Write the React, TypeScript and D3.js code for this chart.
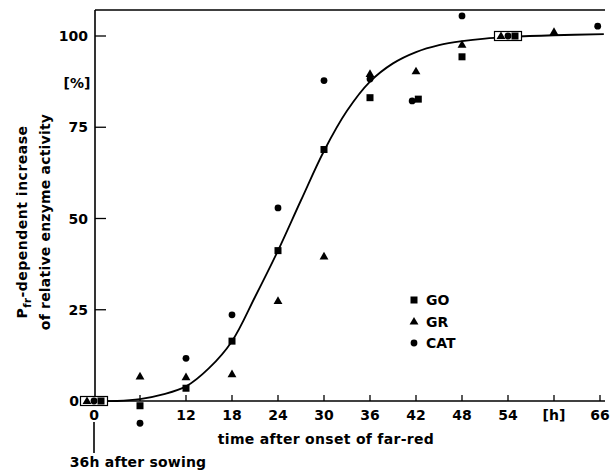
import React from 'react';
import * as d3 from 'd3';

// values (hours after onset of far-red, % increase)
const goHours = [6, 12, 18, 24, 30, 36, 42.3, 48];
const goValues = [-1.3, 3.5, 16.4, 41.2, 68.9, 83.1, 82.7, 94.3];
const grHours = [6, 12, 18, 24, 30, 36, 42, 48, 60];
const grValues = [6.6, 6.4, 7.2, 27.3, 39.5, 89.5, 90.2, 97.5, 101];
const catHours = [6, 12, 18, 24, 30, 36, 41.5, 48, 65.7];
const catValues = [-6.1, 11.7, 23.6, 52.9, 87.8, 88.2, 82.2, 105.5, 102.7];
// all three series coincide here (drawn boxed)
const boxHours = [0, 54];
const boxValues = [0, 100];
// hand-drawn fit curve
const fitHours = [0, 3, 6, 9, 12, 15, 18, 21, 24, 27, 30, 33, 36, 39, 42, 45, 48, 51, 54, 60, 66.5];
const fitValues = [0, 0, 0.5, 1.8, 4, 9, 16.4, 28.5, 41.2, 55, 68.5, 79.5, 87.5, 92.5, 95.6, 97.5, 98.6, 99.3, 99.7, 100.2, 100.5];

const xTicks = [0, 6, 12, 18, 24, 30, 36, 42, 48, 54, 60, 66];
const xTickLabels = ['0', '', '12', '18', '24', '30', '36', '42', '48', '54', '[h]', '66'];
const yTicks = [0, 25, 50, 75, 100];

const font = '"DejaVu Sans", sans-serif';

const x = d3.scaleLinear().domain([0, 66]).range([94, 600]);
const y = d3.scaleLinear().domain([0, 100]).range([401, 36]);

const Square = ({ cx, cy }: { cx: number; cy: number }) => (
  <rect x={cx - 3.5} y={cy - 3.5} width={7} height={7} fill="#000" />
);
const Triangle = ({ cx, cy }: { cx: number; cy: number }) => (
  <path d={d3.symbol(d3.symbolTriangle, 34)()!} transform={`translate(${cx},${cy})`} fill="#000" />
);
const Dot = ({ cx, cy }: { cx: number; cy: number }) => <circle cx={cx} cy={cy} r={3.4} fill="#000" />;

export default function App() {
  const line = d3.line<number>()
    .x((d, i) => x(fitHours[i]))
    .y((d) => y(d))
    .curve(d3.curveCatmullRom.alpha(0.5));

  const txt = { fontFamily: font, fontSize: 14, fontWeight: 'bold' as const };

  return (
    <svg width={614} height={471} style={{ position: 'absolute', left: 0, top: 0, background: '#fff' }}>
      {/* frame */}
      <line x1={95} y1={10} x2={95} y2={401} stroke="#000" strokeWidth={1.6} />
      <line x1={95} y1={10} x2={605} y2={10} stroke="#000" strokeWidth={1.4} />
      <line x1={95} y1={401} x2={605} y2={401} stroke="#000" strokeWidth={1.4} />

      {/* y axis */}
      {yTicks.map((t) => (
        <g key={t}>
          {t > 0 && <line x1={95} x2={106} y1={y(t)} y2={y(t)} stroke="#000" strokeWidth={1.3} />}
          <text x={t > 0 ? 88 : 79} y={y(t) + 5} textAnchor="end" {...txt}>{t}</text>
        </g>
      ))}
      <text x={77} y={88} textAnchor="middle" {...txt}>[%]</text>

      {/* x axis */}
      {xTicks.map((t, i) => (
        <g key={t}>
          {t > 0 && <line x1={x(t)} x2={x(t)} y1={401} y2={395} stroke="#000" strokeWidth={1.3} />}
          <text x={x(t)} y={420} textAnchor="middle" {...txt}>{xTickLabels[i]}</text>
        </g>
      ))}
      <text x={326} y={444} textAnchor="middle" {...txt} letterSpacing={0.3}>
        time after onset of far-red
      </text>
      <line x1={94} x2={94} y1={422} y2={453} stroke="#000" strokeWidth={1.6} />
      <text x={138} y={467} textAnchor="middle" {...txt} letterSpacing={0.2}>36h after sowing</text>

      {/* y label */}
      <g transform="translate(27,222) rotate(-90)">
        <text x={0} y={0} textAnchor="middle" {...txt} letterSpacing={0.5}>
          P<tspan fontSize={10} dy={4}>fr</tspan><tspan dy={-4}>-dependent increase</tspan>
        </text>
        <text x={0} y={23} textAnchor="middle" {...txt} letterSpacing={0.2}>
          of relative enzyme activity
        </text>
      </g>

      {/* fit curve */}
      <path d={line(fitValues)!} fill="none" stroke="#000" strokeWidth={1.8} />

      {/* data */}
      {goHours.map((h, i) => <Square key={'g' + i} cx={x(h)} cy={y(goValues[i])} />)}
      {grHours.map((h, i) => <Triangle key={'r' + i} cx={x(h)} cy={y(grValues[i])} />)}
      {catHours.map((h, i) => <Dot key={'c' + i} cx={x(h)} cy={y(catValues[i])} />)}

      {boxHours.map((h, i) => {
        const cx = x(h);
        const cy = y(boxValues[i]);
        return (
          <g key={'b' + i}>
            <rect x={cx - 13.5} y={cy - 4.5} width={27} height={9} fill="#fff" stroke="#000" strokeWidth={1.2} />
            <Triangle cx={cx - 7} cy={cy + 0.5} />
            <Dot cx={cx} cy={cy} />
            <Square cx={cx + 7} cy={cy} />
          </g>
        );
      })}

      {/* legend */}
      <Square cx={414} cy={300} />
      <text x={426} y={305} {...txt}>GO</text>
      <Triangle cx={414} cy={322} />
      <text x={426} y={327} {...txt}>GR</text>
      <Dot cx={414} cy={343} />
      <text x={426} y={348} {...txt}>CAT</text>
    </svg>
  );
}
